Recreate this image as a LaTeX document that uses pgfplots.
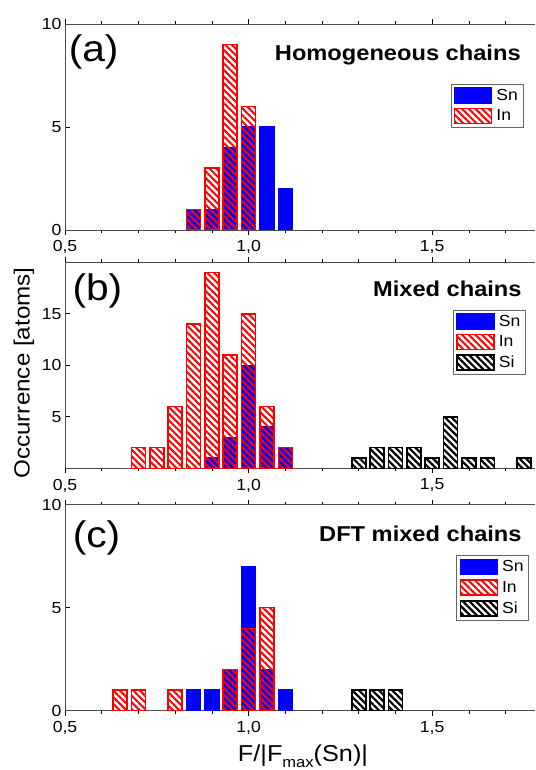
\documentclass[border=0pt]{standalone}
\usepackage{fontspec}
\setmainfont{Liberation Sans}[FakeStretch=1.1]
\usepackage{pgfplots}
\pgfplotsset{compat=1.18}
\usetikzlibrary{patterns.meta}

\tikzset{
  tag/.style={font=\fontsize{37}{40}\selectfont},
  ttl/.style={font=\fontsize{21.5}{24}\selectfont\bfseries, anchor=base east},
}

\pgfplotsset{
  panel/.style={
    scale only axis, width=470pt, height=206pt,
    xmin=0.5, xmax=1.78, ymin=0,
    axis x line*=box, axis y line*=left,
    xtick={0.5,1.0,1.5}, xticklabels={{0,5},{1,0},{1,5}},
    minor xtick={0.6,0.7,0.8,0.9,1.1,1.2,1.3,1.4,1.6,1.7},
    xtick pos=both, ytick pos=left, tick align=inside,
    major tick length=5pt, minor tick length=3pt,
    tick style={black, line width=0.6pt},
    axis line style={line width=0.8pt, black!70},
    /pgf/number format/assume math mode=true,
    ticklabel style={font=\fontsize{16}{18}\selectfont},
    xticklabel style={yshift=-2pt},
    ybar, bar width=14pt, bar shift=0pt,
    legend cell align=left,
    legend style={draw=black!60, line width=0.6pt, font=\fontsize{16}{18}\selectfont,
      anchor=north east, inner sep=3pt, row sep=4pt},
    legend image code/.code={\draw[##1] (0pt,-7.5pt) rectangle (37pt,7.5pt);
      \path (39pt,0pt);},
  },
  sn/.style={fill=blue, draw=blue, line width=1.5pt, bar shift=0pt},
  in/.style={draw=red, line width=1.5pt, bar shift=0pt,
    pattern={Lines[angle=-45,distance=4.7pt,line width=2pt]}, pattern color=red},
  si/.style={draw=black, line width=1.5pt, bar shift=0pt,
    pattern={Lines[angle=-45,distance=4.7pt,line width=2.2pt]}, pattern color=black},
}

\begin{document}
\begin{tikzpicture}
\path[use as bounding box] (0,0) rectangle (535pt,770pt);

% (a) homogeneous chains
\begin{axis}[panel, at={(65pt,540pt)}, anchor=south west,
    ymax=10, ytick={0,5,10},
    legend style={at={(0.975,0.71)}}]
  \addplot[sn] coordinates {(0.85,1) (0.90,1) (0.95,4) (1.00,5) (1.05,5) (1.10,2)};
  \addplot[in] coordinates {(0.85,1) (0.90,3) (0.95,9) (1.00,6)};
  \legend{Sn, In}
  \node[tag] at (rel axis cs:0.061,0.862) {(a)};
  \node[ttl] at (rel axis cs:0.977,0.825) {Homogeneous chains};
\end{axis}

% (b) mixed chains
\begin{axis}[panel, at={(65pt,301.7pt)}, anchor=south west,
    ymax=20, ytick={5,10,15},
    legend style={at={(0.98,0.77)}}]
  \addplot[sn] coordinates {(0.90,1) (0.95,3) (1.00,10) (1.05,4) (1.10,2)};
  \addplot[in] coordinates {(0.70,2) (0.75,2) (0.80,6) (0.85,14) (0.90,19)
    (0.95,11) (1.00,15) (1.05,6) (1.10,2)};
  \addplot[si] coordinates {(1.30,1) (1.35,2) (1.40,2) (1.45,2) (1.50,1)
    (1.55,5) (1.60,1) (1.65,1) (1.75,1)};
  \legend{Sn, In, Si}
  \node[tag] at (rel axis cs:0.069,0.86) {(b)};
  \node[ttl] at (rel axis cs:0.979,0.835) {Mixed chains};
\end{axis}

% (c) DFT mixed chains
\begin{axis}[panel, at={(65pt,59.3pt)}, anchor=south west,
    ymax=10, ytick={0,5,10},
    legend style={at={(0.987,0.754)}}]
  \addplot[sn] coordinates {(0.85,1) (0.90,1) (0.95,2) (1.00,7) (1.05,2) (1.10,1)};
  \addplot[in] coordinates {(0.65,1) (0.70,1) (0.80,1) (0.95,2) (1.00,4) (1.05,5)};
  \addplot[si] coordinates {(1.30,1) (1.35,1) (1.40,1)};
  \legend{Sn, In, Si}
  \node[tag] at (rel axis cs:0.067,0.838) {(c)};
  \node[ttl] at (rel axis cs:0.979,0.822) {DFT mixed chains};
\end{axis}

\node[rotate=90, font=\fontsize{22}{24}\selectfont] at (24pt,397pt) {Occurrence [atoms]};
\node[anchor=base, font=\fontsize{23}{26}\selectfont] at (303pt,9pt)
  {F/|F\raisebox{-6pt}{\fontsize{15}{15}\selectfont max}(Sn)|};
\end{tikzpicture}
\end{document}
